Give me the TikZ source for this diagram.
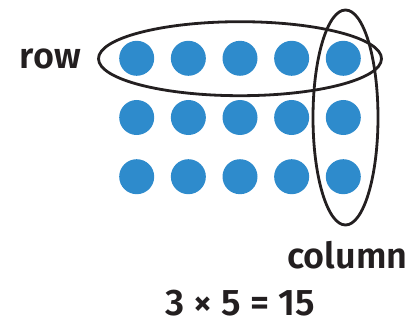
\documentclass[tikz,border=0pt]{standalone}
\usepackage{fontspec}
\setmainfont{Fira Sans}[BoldFont={Fira Sans SemiBold}]
\usepackage{tikz}
\usetikzlibrary{shapes.geometric, positioning}
\definecolor{DotBlue}{RGB}{46, 139, 204}
\definecolor{InkBlack}{RGB}{35, 31, 32}

\begin{document}
\begin{tikzpicture}[
    x=1pt, y=-1pt,
    node distance=15pt,
    dot/.style={circle, fill=DotBlue, minimum size=35pt, inner sep=0pt},
    ring/.style={ellipse, draw=InkBlack, line width=2.8pt, inner sep=0pt},
    tag/.style={font=\fontsize{36}{36}\selectfont\bfseries, text=InkBlack, inner sep=0pt}
  ]
    \useasboundingbox (0,0) rectangle (418,321);

    % 3 x 5 array of dots
    \foreach \r in {1,2,3}
      \foreach \c in {1,...,5}
        \node[dot] (d\r\c) at ({136.7+51.65*(\c-1)}, {58.3+59.2*(\r-1)}) {};

    % Rings round the first row and the last column
    \node[ring, minimum width=283pt, minimum height=74pt] (rowring) at (240,58.7) {};
    \node[ring, minimum width=65pt, minimum height=215pt] (colring) at (345.5,117.5) {};

    % Labels
    \node[tag, left=16pt of rowring] (rowtag) {row};
    \node[tag, below=15pt of colring, xshift=2pt] (coltag) {column};
    \node[tag, anchor=base, font=\fontsize{37}{37}\selectfont\bfseries] (sum) at (240,315) {3 × 5 = 15};
  \end{tikzpicture}
\end{document}
